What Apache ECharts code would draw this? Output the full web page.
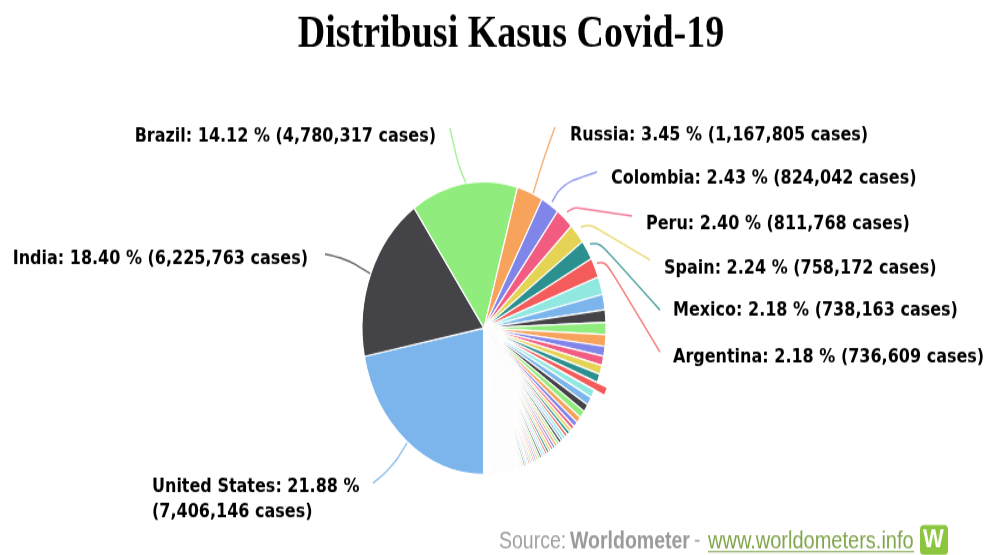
<!DOCTYPE html>
<html>
<head>
<meta charset="utf-8">
<style>
html,body{margin:0;padding:0;background:#fff;overflow:hidden;width:987px;height:555px}
#main{width:987px;height:463px;transform:scaleY(1.2);transform-origin:0 0}
</style>
<script src="https://cdn.jsdelivr.net/npm/echarts@6/dist/echarts.min.js"></script>
</head>
<body>
<div id="main"></div>
<script>
const labelledCountries = ["United States","India","Brazil","Russia","Colombia","Peru","Spain","Mexico","Argentina"];
const labelledPercents = ["21.88","18.40","14.12","3.45","2.43","2.40","2.24","2.18","2.18"];
const labelledCases = [7406146,6225763,4780317,1167805,824042,811768,758172,738163,736609];
const midCountries = ["South Africa","France","Chile","Iran","United Kingdom","Bangladesh","Iraq","Saudi Arabia","Turkey","Pakistan"];
const midCases = [672572,577505,461300,453637,439013,362043,353566,333648,315845,312806];
const tailCases = [309870,307288,287421,278722,234000,197000,153000,134000,133000,126000,
125000,115000,114000,113000,112000,111000,108000,104000,103000,97000,
92000,90000,90000,87000,85000,83000,77000,77000,73000,73000,
73000,72000,72000,69000,62000,58000,57000,56000,52000,51000,
50000,49000,46000,46000,45000,43000,40000,39000,38000,36000,
33000,33000,30000,28000,27000,26000,25000,24000,23000,22000,
21400,20500,20100,19300,19000,18700,18000,17400,17000,16500,
16200,15500,15100,14400,14000,13600,13000,12800,12500,12200,
12000,11700,11400,11000,10800,10500,10200,10000,9800,9600,
9400,9200,9000,8800,8600,8400,8200,8000,7800,7600,
7400,7200,7000,6800,6600,6400,6200,6000,5800,5600,
5400,5200,5000,4800,4600,4400,4200,4000,3800,3600,
3400,3200,3000,2900,2800,2700,2600,2500,2400,2300,
2200,2100,2000,1900,1800,1700,1600,1500,1400,1300,
1200,1100,1000,900,800,700,600,500,400,300];
const palette = ["#7cb5ec","#434348","#90ed7d","#f7a35c","#8085e9","#f15c80","#e4d354","#2b908f","#f45b5b","#91e8e1"];
const titleText = "Distribusi Kasus Covid-19";
const highlighted = "Pakistan";

const Y = 1 / 1.2; // page is stretched vertically by 1.2
// label anchor and connector per country, in page pixels
const labelPlaces = {
  "Brazil":{x:436,y:137,align:"right",line:[[466,183],[458,165],[450,128]]},
  "India":{x:308,y:259,align:"right",line:[[371,274],[345,258],[325,254]]},
  "United States":{x:152,y:500,align:"left",line:[[407,443],[392,468],[373,483]]},
  "Russia":{x:570,y:135,align:"left",line:[[533,194],[543,160],[555,127]]},
  "Colombia":{x:611,y:179,align:"left",line:[[552,202],[562,184],[597,172]]},
  "Peru":{x:646,y:224,align:"left",line:[[567,212],[574,207],[632,216]]},
  "Spain":{x:664,y:269,align:"left",line:[[581,227],[590,224],[650,260]]},
  "Mexico":{x:673,y:311,align:"left",line:[[590,244],[600,243],[660,310]]},
  "Argentina":{x:673,y:358,align:"left",line:[[597,263],[606,262],[660,352]]}
};

const names = labelledCountries.concat(midCountries, tailCases.map((_, i) => "Country " + (i + 20)));
const values = labelledCases.concat(midCases, tailCases);

const seriesData = names.map((name, i) => {
  const isLabelled = i < labelledCountries.length;
  return {
    name, value: values[i],
    selected: name === highlighted,
    label: {show: isLabelled},
    labelLine: {show: isLabelled}
  };
});

const chart = echarts.init(document.getElementById("main"), null, {renderer: "canvas", width: 987, height: 463});
chart.setOption({
  animation: false,
  color: palette,
  backgroundColor: "#fff",
  title: {
    text: titleText, left: 506, top: 5, textAlign: "center",
    textStyle: {fontFamily: "Liberation Serif", fontWeight: "bold", fontSize: 38, color: "#000"}
  },
  series: [{
    type: "pie",
    center: [484, 328 * Y],
    radius: [0, 122],
    startAngle: 270,
    clockwise: true,
    avoidLabelOverlap: false,
    selectedMode: "single",
    selectedOffset: 11,
    emphasis: {disabled: true},
    itemStyle: {borderColor: "#fff", borderWidth: 1.2},
    label: {
      position: "outside",
      fontFamily: "DejaVu Sans", fontWeight: "bold", fontSize: 16, color: "#000", lineHeight: 21,
      formatter: p => {
        const base = p.name + ": " + labelledPercents[p.dataIndex] + " %";
        const cases = "(" + p.value.toLocaleString("en-US") + " cases)";
        return p.name === "United States" ? base + "\n" + cases : base + " " + cases;
      }
    },
    labelLine: {show: true, smooth: 0.4, lineStyle: {width: 1.5, opacity: 0.8}},
    labelLayout: p => {
      const place = labelPlaces[names[p.dataIndex]];
      if (!place) return {};
      return {
        x: place.x, y: place.y * Y,
        align: place.align, verticalAlign: "middle",
        labelLinePoints: place.line.map(q => [q[0], q[1] * Y])
      };
    },
    data: seriesData
  }],
  graphic: [
    {type: "text", left: 499, top: 531 * Y - 1, silent: true,
     style: {text: "Source:", fontFamily: "Liberation Sans", fontSize: 19.5, fill: "#a0a0a0"}},
    {type: "text", left: 570, top: 531 * Y - 1, silent: true,
     style: {text: "Worldometer", fontFamily: "Liberation Sans", fontWeight: "bold", fontSize: 19.5, fill: "#9a9a9a"}},
    {type: "text", left: 694, top: 531 * Y - 1, silent: true,
     style: {text: "-", fontFamily: "Liberation Sans", fontSize: 19, fill: "#a0a0a0"}},
    {type: "text", left: 708, top: 531 * Y - 1, silent: true,
     style: {text: "www.worldometers.info", fontFamily: "Liberation Sans", fontSize: 20, fill: "#7fa64a"}},
    {type: "rect", silent: true, shape: {x: 708, y: 551 * Y, width: 206, height: 1}, style: {fill: "#7fa64a"}},
    {type: "rect", silent: true, shape: {x: 920, y: 525 * Y, width: 28, height: 30 * Y, r: 4}, style: {fill: "#8cc63f"}},
    {type: "text", left: 923, top: 527 * Y, silent: true,
     style: {text: "W", fontFamily: "Liberation Sans", fontWeight: "bold", fontSize: 22, fill: "#fff"}}
  ]
});
</script>
</body>
</html>
